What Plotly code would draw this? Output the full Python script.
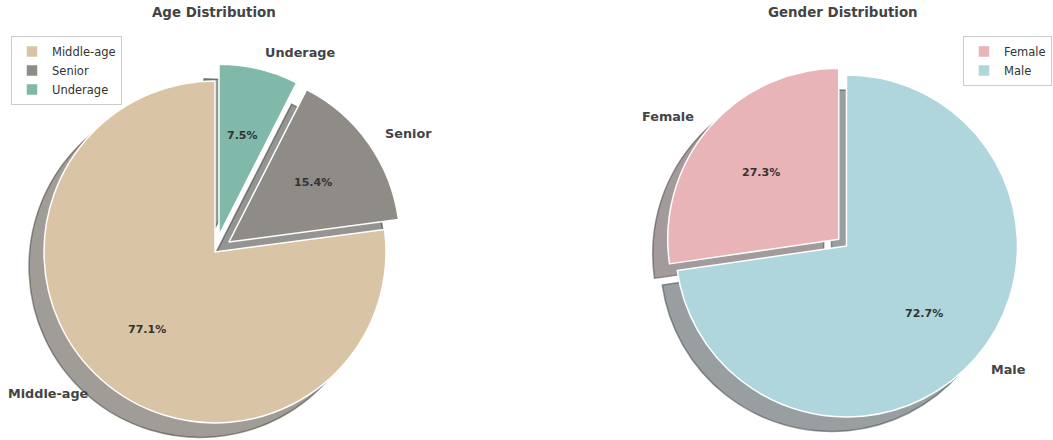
import math
import plotly.graph_objects as go

W, H = 1053, 440

# ---- data ----
age_labels = ["Middle-age", "Senior", "Underage"]
age_values = [77.1, 15.4, 7.5]
age_colors = ["#d9c4a5", "#8f8c87", "#80b9a9"]
age_pull = [0.0, 0.1, 0.1]

gender_labels = ["Female", "Male"]
gender_values = [27.3, 72.7]
gender_colors = ["#e8b4b8", "#aed6dc"]
gender_pull = [0.03, 0.03]

# ---- layout geometry (pixels) ----
R = 171.0
AGE_C = (215.0, 251.9)
GEN_C = (842.6, 242.6)
SHADOW_DX, SHADOW_DY = -15.0, 14.5
FONT = "DejaVu Sans"


def domain(cx, cy, half):
    x0, x1 = (cx - half) / W, (cx + half) / W
    y0, y1 = 1 - (cy + half) / H, 1 - (cy - half) / H
    clip = lambda v: min(1.0, max(0.0, v))
    return dict(x=[clip(x0), clip(x1)], y=[clip(y0), clip(y1)])


def hex_rgb(h):
    h = h.lstrip("#")
    return tuple(int(h[i:i + 2], 16) for i in (0, 2, 4))


def shadow_rgba(h):
    r, g, b = hex_rgb(h)
    return "rgba(%d,%d,%d,0.5)" % (0.3 * r, 0.3 * g, 0.3 * b)


def mid_angles(values):
    tot = float(sum(values))
    out, cum = [], 0.0
    for v in values:
        a0 = 90 + 360 * cum / tot
        cum += v
        a1 = 90 + 360 * cum / tot
        out.append(math.radians((a0 + a1) / 2))
    return out


fig = go.Figure()
annotations = []


def add_pie(labels, values, colors, pulls, center, legend_name):
    cx, cy = center
    mids = mid_angles(values)
    tot = float(sum(values))
    # first slice starts at 12 o'clock and runs counterclockwise (matplotlib startangle=90)
    rot = 360.0 * (1 - values[0] / tot)
    # shadows: one trace per slice, shifted
    for i in range(len(values)):
        sx = cx + pulls[i] * R * math.cos(mids[i]) + SHADOW_DX
        sy = cy - pulls[i] * R * math.sin(mids[i]) + SHADOW_DY
        cols = ["rgba(0,0,0,0)"] * len(values)
        lcols = ["rgba(0,0,0,0)"] * len(values)
        cols[i] = shadow_rgba(colors[i])
        lcols[i] = shadow_rgba(colors[i])
        fig.add_trace(go.Pie(
            labels=labels, values=values, sort=False, direction="counterclockwise",
            rotation=rot, domain=domain(sx, sy, R), textinfo="none",
            marker=dict(colors=cols, line=dict(color=lcols, width=1.5)),
            hoverinfo="skip", showlegend=False,
        ))
    # main pie
    half = R * (1 + max(pulls))
    fig.add_trace(go.Pie(
        labels=labels, values=values, sort=False, direction="counterclockwise",
        rotation=rot, pull=pulls, domain=domain(cx, cy, half), textinfo="none",
        marker=dict(colors=colors, line=dict(color="white", width=1.5)),
        legend=legend_name, showlegend=True,
    ))
    # labels and percentages (matplotlib style: label at 1.1r, pct at 0.6r)
    for i in range(len(values)):
        c, s = math.cos(mids[i]), math.sin(mids[i])
        lx = cx + (pulls[i] + 1.1) * R * c
        ly = cy - (pulls[i] + 1.1) * R * s
        annotations.append(dict(
            x=lx / W, y=1 - ly / H, xref="paper", yref="paper",
            text="<b>%s</b>" % labels[i], showarrow=False,
            xanchor="left" if c > 0 else "right", yanchor="middle",
            font=dict(family=FONT, size=12.8, color="#444444"),
        ))
        px = cx + (pulls[i] + 0.6) * R * c
        py = cy - (pulls[i] + 0.6) * R * s
        annotations.append(dict(
            x=px / W, y=1 - py / H, xref="paper", yref="paper",
            text="<b>%.1f%%</b>" % (100 * values[i] / tot), showarrow=False,
            xanchor="center", yanchor="middle",
            font=dict(family=FONT, size=11, color="#333333"),
        ))


add_pie(age_labels, age_values, age_colors, age_pull, AGE_C, "legend")
add_pie(gender_labels, gender_values, gender_colors, gender_pull, GEN_C, "legend2")

for title, cx in (("Age Distribution", 214.0), ("Gender Distribution", GEN_C[0])):
    annotations.append(dict(
        x=cx / W, y=1 - 12.5 / H, xref="paper", yref="paper", text="<b>%s</b>" % title,
        showarrow=False, xanchor="center", yanchor="middle",
        font=dict(family=FONT, size=13.4, color="#444444"),
    ))

legend_style = dict(
    bgcolor="rgba(255,255,255,0.8)", bordercolor="#cccccc", borderwidth=1,
    font=dict(family=FONT, size=11.5, color="#333333"), yanchor="top",
)
fig.update_layout(
    width=W, height=H, margin=dict(l=0, r=0, t=0, b=0),
    paper_bgcolor="white", plot_bgcolor="white",
    annotations=annotations,
    legend=dict(x=11 / W, y=1 - 36 / H, xanchor="left", **legend_style),
    legend2=dict(x=1052 / W, y=1 - 36 / H, xanchor="right", **legend_style),
)

fig.write_html("out.html", config={"displayModeBar": False},
               post_script="document.body.style.margin='0';")
